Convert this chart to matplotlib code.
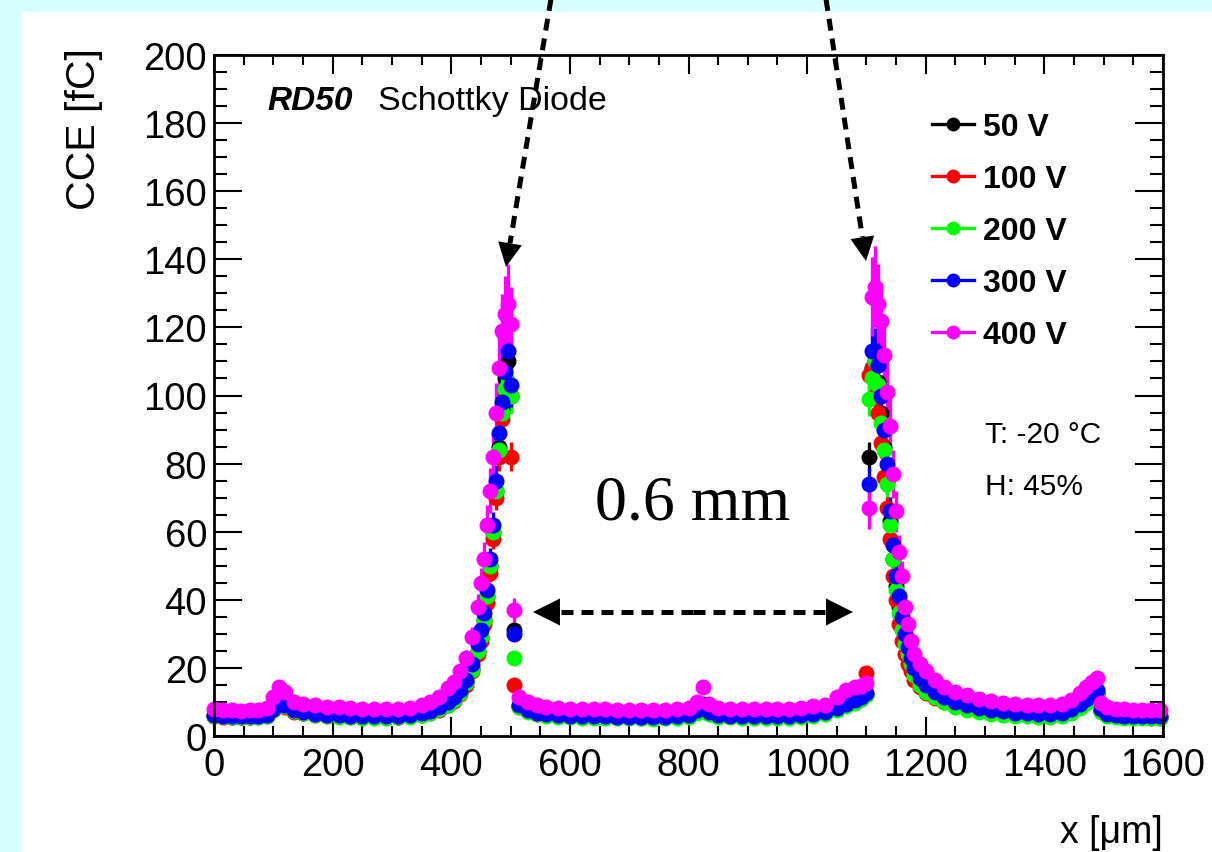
import numpy as np
import matplotlib
matplotlib.use('Agg')
import matplotlib.pyplot as plt
from matplotlib.lines import Line2D
from matplotlib.patches import Polygon, Rectangle
from matplotlib.ticker import MultipleLocator

W, H = 1212, 853
FONT = ['Liberation Sans', 'DejaVu Sans']
SERIF = ['Liberation Serif', 'DejaVu Serif']

# scan positions [um], shared by all bias voltages
X = [0, 15, 30, 45, 60, 75, 90, 100, 110, 120,
     135, 150, 170, 190, 210, 230, 250, 270, 290, 310,
     330, 350, 365, 380, 395, 405, 415, 425, 435, 445,
     450, 455, 460, 465, 470, 475, 480, 485, 490, 495,
     500, 505, 515, 530, 545, 560, 580, 600, 620, 640,
     660, 680, 700, 720, 740, 760, 780, 800, 815, 825,
     835, 850, 870, 890, 910, 930, 950, 970, 990, 1010,
     1030, 1050, 1065, 1080, 1090, 1100, 1105, 1110, 1115, 1120,
     1125, 1130, 1135, 1140, 1145, 1150, 1155, 1160, 1165, 1170,
     1175, 1180, 1190, 1200, 1215, 1230, 1250, 1270, 1290, 1310,
     1330, 1350, 1370, 1390, 1410, 1430, 1445, 1460, 1470, 1480,
     1488, 1495, 1505, 1520, 1535, 1550, 1565, 1580, 1595]

cce_50v = [6.0, 5.8, 5.7, 5.6, 5.7, 5.8, 6.1, 7.8, 9.8, 8.8,
           7.3, 6.8, 6.4, 6.1, 5.9, 5.8, 5.7, 5.6, 5.6, 5.7,
           5.9, 6.4, 7.0, 8.0, 9.5, 11.0, 13.0, 16.0, 20.0, 25.0,
           29.0, 34.0, 41.0, 50.0, 60.0, 72.0, 85.0, 96.0, 105.0, 110.0,
           100.0, 31.0, 8.8, 7.3, 6.7, 6.3, 6.0, 5.8, 5.7, 5.6,
           5.6, 5.5, 5.5, 5.5, 5.4, 5.5, 5.6, 5.9, 7.2, 9.0,
           6.8, 6.0, 5.8, 5.7, 5.6, 5.6, 5.7, 5.8, 6.0, 6.3,
           6.8, 7.9, 9.2, 10.2, 11.2, 12.2, 82.0, 108.0, 110.0, 104.0,
           95.0, 85.0, 75.0, 63.0, 52.0, 44.0, 38.0, 32.0, 28.0, 24.5,
           21.5, 18.5, 15.8, 14.0, 12.2, 10.8, 9.4, 8.5, 7.8, 7.2,
           6.8, 6.5, 6.3, 6.2, 6.2, 6.5, 7.3, 8.8, 10.2, 11.5,
           12.5, 7.4, 6.3, 5.9, 5.7, 5.6, 5.5, 5.5, 5.5]

cce_100v = [5.9, 5.7, 5.6, 5.5, 5.6, 5.7, 6.0, 7.6, 9.5, 8.6,
            7.1, 6.7, 6.3, 6.0, 5.8, 5.7, 5.6, 5.6, 5.6, 5.7,
            5.8, 6.2, 6.7, 7.6, 9.0, 10.4, 12.3, 15.0, 19.0, 24.0,
            28.0, 33.0, 39.0, 48.0, 58.0, 70.0, 82.0, 93.0, 100.0, 101.0,
            82.0, 15.0, 8.6, 7.2, 6.6, 6.2, 5.9, 5.8, 5.7, 5.6,
            5.6, 5.5, 5.5, 5.4, 5.4, 5.5, 5.6, 5.9, 7.0, 8.8,
            6.7, 6.0, 5.8, 5.6, 5.6, 5.6, 5.6, 5.8, 6.0, 6.2,
            6.7, 7.8, 9.0, 10.0, 11.0, 18.5, 106.0, 108.0, 100.0, 95.0,
            86.0, 76.0, 67.0, 58.0, 47.0, 40.0, 33.0, 28.0, 24.0, 21.0,
            19.0, 16.5, 14.3, 12.7, 11.2, 10.0, 8.9, 8.1, 7.5, 7.0,
            6.7, 6.4, 6.2, 6.1, 6.1, 6.4, 7.1, 8.5, 9.8, 11.0,
            12.0, 7.2, 6.2, 5.8, 5.6, 5.5, 5.5, 5.4, 5.4]

cce_200v = [6.0, 5.8, 5.6, 5.5, 5.6, 5.7, 6.0, 7.6, 9.6, 8.7,
            7.2, 6.7, 6.2, 5.9, 5.7, 5.5, 5.4, 5.4, 5.4, 5.5,
            5.7, 6.2, 6.8, 7.8, 9.2, 10.6, 12.6, 15.5, 19.5, 25.0,
            29.0, 34.0, 41.0, 50.0, 60.0, 72.0, 84.0, 95.0, 102.0, 104.0,
            100.0, 23.0, 8.4, 7.0, 6.4, 6.0, 5.7, 5.5, 5.4, 5.3,
            5.3, 5.2, 5.2, 5.2, 5.1, 5.2, 5.3, 5.6, 6.8, 8.6,
            6.5, 5.7, 5.5, 5.3, 5.2, 5.2, 5.3, 5.4, 5.6, 5.9,
            6.4, 7.5, 8.8, 9.8, 10.8, 12.0, 99.0, 105.0, 110.0, 103.0,
            92.0, 84.0, 74.0, 62.0, 52.0, 43.0, 36.0, 31.0, 27.0, 24.0,
            21.0, 18.0, 15.0, 13.0, 11.5, 10.0, 8.6, 7.7, 7.1, 6.6,
            6.2, 5.9, 5.8, 5.7, 5.7, 6.0, 6.8, 8.2, 9.6, 10.8,
            11.8, 7.0, 5.9, 5.6, 5.4, 5.3, 5.3, 5.2, 5.2]

cce_300v = [6.2, 6.0, 5.9, 5.8, 5.9, 6.0, 6.3, 8.0, 10.0, 9.0,
            7.5, 7.0, 6.6, 6.3, 6.1, 6.0, 5.9, 5.8, 5.8, 5.9,
            6.1, 6.7, 7.4, 8.5, 10.0, 11.5, 13.5, 16.5, 21.0, 27.0,
            31.0, 36.0, 43.0, 52.0, 62.0, 75.0, 89.0, 98.0, 107.0, 113.0,
            103.0, 30.0, 9.0, 7.5, 6.9, 6.5, 6.2, 6.0, 5.9, 5.8,
            5.8, 5.7, 5.7, 5.7, 5.6, 5.7, 5.8, 6.1, 7.5, 9.5,
            7.0, 6.2, 6.0, 5.9, 5.8, 5.8, 5.9, 6.0, 6.2, 6.5,
            7.0, 8.2, 9.5, 10.5, 11.5, 12.5, 74.0, 113.0, 113.0, 109.0,
            100.0, 90.0, 80.0, 66.0, 56.0, 47.0, 41.0, 35.0, 30.0, 26.0,
            23.0, 20.0, 17.0, 15.0, 13.0, 11.5, 10.0, 9.0, 8.2, 7.6,
            7.2, 6.9, 6.7, 6.5, 6.5, 6.9, 7.8, 9.5, 11.0, 12.5,
            13.5, 7.8, 6.6, 6.2, 6.0, 5.9, 5.8, 5.8, 5.8]

cce_400v = [7.8, 7.6, 7.5, 7.4, 7.6, 7.7, 8.2, 11.5, 14.5, 13.0,
            10.0, 9.5, 9.0, 8.6, 8.4, 8.2, 8.0, 7.9, 7.9, 8.0,
            8.3, 9.0, 10.0, 11.5, 14.0, 16.0, 19.0, 23.0, 29.0, 38.0,
            45.0, 52.0, 62.0, 72.0, 82.0, 95.0, 108.0, 119.0, 124.0, 127.0,
            121.0, 37.0, 11.5, 10.0, 9.0, 8.6, 8.3, 8.0, 7.8, 7.8,
            7.8, 7.7, 7.7, 7.6, 7.6, 7.7, 7.8, 8.2, 10.0, 14.5,
            9.5, 8.3, 8.0, 7.8, 7.8, 7.8, 7.9, 8.0, 8.3, 8.8,
            9.0, 11.5, 13.5, 14.3, 14.8, 15.5, 67.0, 129.0, 132.0, 127.0,
            122.0, 112.0, 101.0, 91.0, 77.0, 66.0, 54.0, 47.0, 38.0, 33.0,
            28.0, 24.0, 21.0, 19.0, 16.5, 14.5, 13.0, 12.0, 11.0, 10.3,
            9.8, 9.4, 9.2, 9.0, 9.0, 9.4, 10.5, 12.5, 14.5, 16.0,
            17.0, 9.8, 8.4, 8.0, 7.8, 7.6, 7.6, 7.5, 7.5]

labels = ['50 V', '100 V', '200 V', '300 V', '400 V']
colors = ['#000000', '#ff0000', '#00ff00', '#0000ff', '#ff00ff']
err_frac = [0.05, 0.05, 0.05, 0.06, 0.09]
err_floor = 1.2


def px(x, y):
    # pixel position measured from the top-left corner -> figure fraction
    return x / W, 1 - y / H


def dashed_arrow(fig, x0, y0, x1, y1, head=25, lw=3.6):
    p0 = np.array([x0, H - y0], float)
    p1 = np.array([x1, H - y1], float)
    d = (p1 - p0) / np.linalg.norm(p1 - p0)
    n = np.array([-d[1], d[0]])
    base = p1 - d * head
    fig.add_artist(Line2D([p0[0] / W, base[0] / W], [p0[1] / H, base[1] / H],
                          transform=fig.transFigure, color='k', lw=lw,
                          linestyle=(0, (2.4, 1.6)), zorder=5))
    tri = np.array([p1, base + n * head / 2, base - n * head / 2])
    tri[:, 0] /= W
    tri[:, 1] /= H
    fig.add_artist(Polygon(tri, closed=True, transform=fig.transFigure,
                           fc='k', ec='none', zorder=5))


def main():
    fig = plt.figure(figsize=(W / 100, H / 100), dpi=100, facecolor='#d9ffff')
    fig.add_artist(Rectangle((22 / W, 0), 1 - 22 / W, 1 - 13 / H,
                             transform=fig.transFigure, fc='white', ec='none', zorder=-1))

    ax = fig.add_axes([214 / W, 1 - 737 / H, 949 / W, 681 / H])
    series = [cce_50v, cce_100v, cce_200v, cce_300v, cce_400v]
    x = np.array(X, float)
    handles = []
    for vals, lab, c, f in zip(series, labels, colors, err_frac):
        y = np.array(vals, float)
        yerr = np.hypot(f * y, err_floor)
        ax.errorbar(x, y, yerr=yerr, fmt='o', ms=11.5, mew=0, color=c,
                    ecolor=c, elinewidth=2.4, capsize=0, clip_on=False)
        handles.append(Line2D([], [], color=c, marker='o', ms=10, mew=0, lw=2.4, label=lab))

    ax.set_xlim(0, 1600)
    ax.set_ylim(0, 200)
    ax.xaxis.set_major_locator(MultipleLocator(200))
    ax.xaxis.set_minor_locator(MultipleLocator(50))
    ax.yaxis.set_major_locator(MultipleLocator(20))
    ax.yaxis.set_minor_locator(MultipleLocator(5))
    ax.tick_params(which='both', direction='in', top=True, right=True, width=1.5)
    ax.tick_params(axis='x', which='major', length=14, pad=8, labelsize=27.5)
    ax.tick_params(axis='x', which='minor', length=7)
    ax.tick_params(axis='y', which='major', length=20, pad=5, labelsize=27.5)
    ax.tick_params(axis='y', which='minor', length=9.5)
    for lab in ax.get_xticklabels() + ax.get_yticklabels():
        lab.set_family(FONT)
    for sp in ax.spines.values():
        sp.set_linewidth(2.0)

    fig.text(*px(84, 48), 'CCE [fC]', rotation=90, ha='center', va='top',
             fontsize=29.5, family=FONT)
    fig.text(*px(1163, 843), 'x [\u03bcm]', ha='right', va='baseline',
             fontsize=27, family=FONT)

    fig.text(*px(267, 110), 'RD50', fontsize=24, family=FONT, weight='bold',
             style='italic', va='baseline')
    fig.text(*px(378, 110), 'Schottky Diode', fontsize=24.5, family=FONT, va='baseline')
    fig.text(*px(985, 443), 'T: -20 \u00b0C', fontsize=21.5, family=FONT, va='baseline')
    fig.text(*px(985, 495), 'H: 45%', fontsize=21.5, family=FONT, va='baseline')
    fig.text(*px(693, 520), '0.6 mm', fontsize=46, family=SERIF, ha='center', va='baseline')

    ax.legend(handles=handles, loc='upper left', bbox_to_anchor=px(932, 113),
              bbox_transform=fig.transFigure, frameon=False, borderpad=0,
              borderaxespad=0, handlelength=1.3, handletextpad=0.3,
              labelspacing=0.69, numpoints=1,
              prop={'family': FONT, 'weight': 'bold', 'size': 23})

    # arrows pointing at the two electrodes, and the pitch between them
    dashed_arrow(fig, 551, 0, 506, 268, head=24)
    dashed_arrow(fig, 826, 0, 866, 262, head=24)
    dashed_arrow(fig, 693, 613, 533, 613, head=27)
    dashed_arrow(fig, 693, 613, 853, 613, head=27)

    fig.savefig('out.png', dpi=100, facecolor=fig.get_facecolor())


if __name__ == "__main__":
    main()
